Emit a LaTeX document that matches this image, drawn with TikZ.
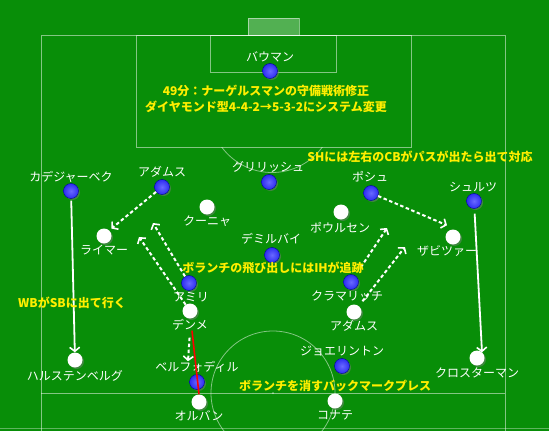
\documentclass[tikz,border=0pt]{standalone}
\usepackage{fontspec}
\setmainfont{Noto Sans CJK JP}
\usetikzlibrary{arrows.meta,shadows}
\definecolor{pitch}{RGB}{8,142,8}
\definecolor{noteyellow}{RGB}{255,238,0}
\definecolor{ballblue}{RGB}{45,45,240}
\definecolor{balllight}{RGB}{105,105,255}

\begin{document}
\begin{tikzpicture}[x=1pt,y=-1pt,
    chalk/.style={white,opacity=0.5,line width=0.8pt},
    rb/.style={circle,minimum size=15pt,inner sep=0pt,draw=blue!60!black,
      line width=0.4pt,shading=radial,inner color=balllight,outer color=ballblue,
      drop shadow={shadow xshift=1.5pt,shadow yshift=-1.5pt,opacity=0.45}},
    lz/.style={circle,minimum size=15pt,inner sep=0pt,fill=white,
      drop shadow={shadow xshift=1.5pt,shadow yshift=-1.5pt,opacity=0.45}},
    plab/.style={text=white,inner sep=0pt,font=\fontsize{12}{12}\selectfont},
    pnote/.style={text=noteyellow,inner sep=0pt,font=\fontsize{12}{12}\selectfont\bfseries},
    run/.style={white,line width=2pt,dash pattern=on 3.5pt off 2.5pt,
      -{Straight Barb[length=4pt,width=10pt,line width=1.6pt]}},
    push/.style={white,line width=1.8pt,
      -{Straight Barb[length=4pt,width=10pt,line width=1.6pt]}}]
  \useasboundingbox (0,0) rectangle (549,431);
  \fill[pitch] (0,0) rectangle (549,431);

  % pitch lines
  \fill[white,opacity=0.3] (248,18) rectangle (299,35);
  \draw[chalk] (248,18) rectangle (299,35);
  \draw[chalk] (41,431) -- (41,35) -- (505,35) -- (505,431);
  \draw[chalk] (136,35) rectangle (411,147);
  \draw[chalk] (210.5,35) rectangle (336,72);
  \begin{scope}
    \clip (0,147) rectangle (549,431);
    \draw[chalk] (272,110) circle (62.5);
  \end{scope}
  \draw[chalk] (41,393) -- (505,393);
  \draw[chalk] (273,393) circle (62);
  \fill[white,opacity=0.5] (273,393) circle (1);
  \draw[chalk,opacity=0.35,line width=1.5pt] (0,428.5) -- (549,428.5);

  % red side
  \path (270,71)  node[rb] (bauman) {};
  \path (71,191)  node[rb] (kadeja) {};
  \path (162,187) node[rb] (adams1) {};
  \path (269,182) node[rb] (grilli) {};
  \path (371,193) node[rb] (posch) {};
  \path (474,201) node[rb] (schulz) {};
  \path (272,255) node[rb] (demir) {};
  \path (189,283) node[rb] (amiri) {};
  \path (351,282) node[rb] (kramar) {};
  \path (197,382) node[rb] (belfo) {};
  \path (342,366) node[rb] (joeli) {};

  \path (270,57)  node[plab] (t-bauman) {バウマン};
  \path (71,177)  node[plab] (t-kadeja) {カデジャーベク};
  \path (162,172) node[plab] (t-adams1) {アダムス};
  \path (268,167) node[plab] (t-grilli) {グリリッシュ};
  \path (370,177) node[plab] (t-posch)  {ポシュ};
  \path (473,187) node[plab] (t-schulz) {シュルツ};
  \path (271,239) node[plab] (t-demir)  {デミルバイ};
  \path (191,297) node[plab] (t-amiri)  {アミリ};
  \path (347,296) node[plab] (t-kramar) {クラマリッチ};
  \path (197,367) node[plab] (t-belfo)  {ベルフォディル};
  \path (342,351) node[plab] (t-joeli)  {ジョエリントン};

  % white side
  \path (104,236) node[lz] (laimer) {};
  \path (207,207) node[lz] (cunha) {};
  \path (341,212) node[lz] (poulsen) {};
  \path (453,237) node[lz] (sabitz) {};
  \path (75,360)  node[lz] (halst) {};
  \path (190,311) node[lz] (demme) {};
  \path (354,312) node[lz] (adams2) {};
  \path (199,402) node[lz] (orban) {};
  \path (335,401) node[lz] (konate) {};
  \path (477,358) node[lz] (kloster) {};

  \path (104,250) node[plab] (t-laimer)  {ライマー};
  \path (207,221) node[plab] (t-cunha)   {クーニャ};
  \path (340,228) node[plab] (t-poulsen) {ポウルセン};
  \path (447,251) node[plab] (t-sabitz)  {ザビツァー};
  \path (75,376)  node[plab] (t-halst)   {ハルステンベルグ};
  \path (190,325) node[plab] (t-demme)   {デンメ};
  \path (354,326) node[plab] (t-adams2)  {アダムス};
  \path (199,416) node[plab] (t-orban)   {オルバン};
  \path (335,415) node[plab] (t-konate)  {コナテ};
  \path (477,373) node[plab] (t-kloster) {クロスターマン};

  % movements
  \coordinate (amiri-go)  at (153,223);
  \coordinate (demme-go)  at (139,237);
  \coordinate (kramar-go) at (387,228);
  \coordinate (adams2-go) at (405,247);
  \draw[run] (adams1) -- ([shift={(2,-2)}]laimer.north east);
  \draw[run] (amiri) -- (amiri-go);
  \draw[run] (demme) -- (demme-go);
  \draw[run,shorten <=7pt] (t-demme.south) -- ([xshift=-9pt]t-belfo.north);
  \draw[red,line width=1.6pt] ([xshift=2pt]t-demme.south) -- (orban.north);
  \draw[run] (posch) -- ([shift={(-6,-4)}]sabitz.north);
  \draw[run,shorten <=10pt] (kramar) -- (kramar-go);
  \draw[run,shorten <=6pt] (adams2) -- (adams2-go);
  \draw[push,shorten <=2pt] (kadeja) -- (halst);
  \draw[push,shorten <=5pt] (schulz) -- ([xshift=5pt,yshift=-2pt]kloster.north);

  % notes
  \path (266,91)  node[pnote] (m-title) {49分：ナーゲルスマンの守備戦術修正};
  \path (266,107) node[pnote] (m-shape) {ダイヤモンド型4-4-2→5-3-2にシステム変更};
  \path (420,157) node[pnote] (m-sh)    {SHには左右のCBがパスが出たら出て対応};
  \path (273,268) node[pnote] (m-ih)    {ボランチの飛び出しにはIHが追跡};
  \path (72,303)  node[pnote] (m-wb)    {WBがSBに出て行く};
  \path (335,386) node[pnote] (m-press) {ボランチを消すバックマークプレス};
\end{tikzpicture}
\end{document}
